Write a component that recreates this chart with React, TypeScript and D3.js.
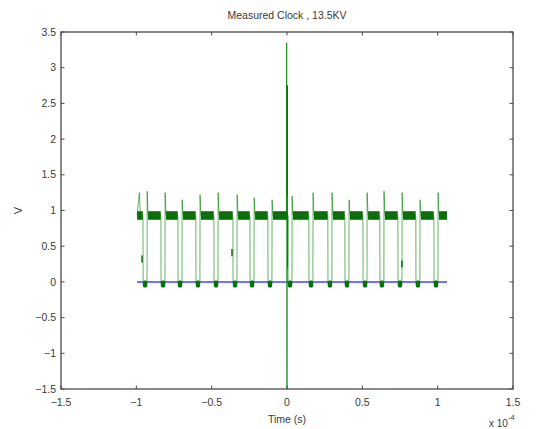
import { useRef, useEffect } from 'react';
import * as d3 from 'd3';

// times are in units of 1e-4 s (axis shows "x 10^-4")
const lowCenters = [-0.942, -0.823, -0.71, -0.591, -0.471, -0.345, -0.232, -0.113, 0.02, 0.159, 0.285, 0.398, 0.518, 0.63, 0.75, 0.869, 0.989];
const spikePeaks = [1.27, 1.25, 1.15, 1.22, 1.25, 1.22, 1.18, 1.15, 1.2, 1.25, 1.25, 1.15, 1.25, 1.27, 1.25, 1.15, 1.25];
const traceStart = -0.995;
const traceEnd = 1.062;
const startSpike = 1.25;
const highLevel = 0.93;
const lowLevel = -0.04;
const highBand = [0.87, 0.99];
const lowBand = [-0.08, 0.02];
const glitchT = [-0.962, -0.365, 0.763];
const glitchV = [0.32, 0.41, 0.25];
const bigSpikeT = [-0.004, -0.002, 0, 0.002, 0.004, 0.006];
const bigSpikeV = [0.93, 3.35, -1.7, 2.75, 0.2, 0.93];

const xTicks = [-1.5, -1, -0.5, 0, 0.5, 1, 1.5];
const yTicks = [-1.5, -1, -0.5, 0, 0.5, 1, 1.5, 2, 2.5, 3, 3.5];

const App = () => {
  const svgRef = useRef<SVGSVGElement>(null);

  useEffect(() => {
    const svg = d3.select(svgRef.current);
    svg.selectAll('*').remove();
    const margin = { top: 32, right: 24, bottom: 40, left: 61 };
    const width = 537, height = 429;

    const x = d3.scaleLinear().domain([-1.5, 1.5]).range([margin.left, width - margin.right]);
    const y = d3.scaleLinear().domain([-1.5, 3.5]).range([height - margin.bottom, margin.top]);
    const font = 'Liberation Sans, Arial, sans-serif';
    const axisColor = '#4a4a4a';
    const textColor = '#3a3a3a';

    svg.append('clipPath').attr('id', 'plot-clip')
      .append('rect')
      .attr('x', x(-1.5)).attr('y', y(3.5))
      .attr('width', x(1.5) - x(-1.5)).attr('height', y(-1.5) - y(3.5));

    const plot = svg.append('g').attr('clip-path', 'url(#plot-clip)');

    // blue reference trace at 0
    plot.append('line')
      .attr('x1', x(traceStart)).attr('x2', x(traceEnd))
      .attr('y1', y(0)).attr('y2', y(0))
      .attr('stroke', '#0000ff').attr('stroke-width', 2).attr('opacity', 0.55);

    // clock trace
    const pts: [number, number][] = [[traceStart, highLevel], [traceStart + 0.015, startSpike], [traceStart + 0.022, highLevel]];
    lowCenters.forEach((c, i) => {
      pts.push([c - 0.014, highLevel], [c - 0.013, lowLevel], [c + 0.013, lowLevel], [c + 0.014, spikePeaks[i]], [c + 0.02, highLevel]);
    });
    pts.push([traceEnd, highLevel]);

    const line = d3.line<[number, number]>().x(d => x(d[0])).y(d => y(d[1]));

    // noisy high plateaus
    const highSegs: [number, number][] = [[traceStart, lowCenters[0] - 0.015]];
    lowCenters.forEach((c, i) => {
      const next = i + 1 < lowCenters.length ? lowCenters[i + 1] - 0.015 : traceEnd;
      highSegs.push([c + 0.02, next]);
    });
    plot.selectAll('rect.high')
      .data(highSegs)
      .join('rect')
      .attr('class', 'high')
      .attr('x', d => x(d[0]))
      .attr('width', d => x(d[1]) - x(d[0]))
      .attr('y', y(highBand[1]))
      .attr('height', y(highBand[0]) - y(highBand[1]))
      .attr('fill', '#0b6e0b');

    plot.selectAll('rect.low')
      .data(lowCenters)
      .join('rect')
      .attr('class', 'low')
      .attr('x', d => x(d - 0.014))
      .attr('width', d => x(d + 0.014) - x(d - 0.014))
      .attr('y', y(lowBand[1]))
      .attr('height', y(lowBand[0]) - y(lowBand[1]))
      .attr('rx', 1.5)
      .attr('fill', '#0b6e0b');

    plot.append('path')
      .datum(pts)
      .attr('d', line)
      .attr('fill', 'none')
      .attr('stroke', '#008000')
      .attr('stroke-width', 1)
      .attr('opacity', 0.6);

    plot.selectAll('line.glitch')
      .data(glitchT)
      .join('line')
      .attr('class', 'glitch')
      .attr('x1', d => x(d)).attr('x2', d => x(d))
      .attr('y1', (d, i) => y(glitchV[i] + 0.05))
      .attr('y2', (d, i) => y(glitchV[i] - 0.05))
      .attr('stroke', '#0b6e0b').attr('stroke-width', 1.5);

    // transient at t = 0
    plot.append('path')
      .datum(bigSpikeT.map((t, i) => [t, bigSpikeV[i]] as [number, number]))
      .attr('d', line)
      .attr('fill', 'none')
      .attr('stroke', '#008000')
      .attr('stroke-width', 1)
      .attr('opacity', 0.75);
    plot.append('line')
      .attr('x1', x(0.002)).attr('x2', x(0.002))
      .attr('y1', y(2.75)).attr('y2', y(1.2))
      .attr('stroke', '#0b6e0b').attr('stroke-width', 1);

    // frame
    svg.append('rect')
      .attr('x', x(-1.5)).attr('y', y(3.5))
      .attr('width', x(1.5) - x(-1.5)).attr('height', y(-1.5) - y(3.5))
      .attr('fill', 'none').attr('stroke', axisColor).attr('stroke-width', 1.3);

    const tick = 3.5;
    const xt = svg.append('g');
    xTicks.forEach(t => {
      xt.append('line').attr('x1', x(t)).attr('x2', x(t)).attr('y1', y(-1.5)).attr('y2', y(-1.5) - tick).attr('stroke', axisColor);
      xt.append('line').attr('x1', x(t)).attr('x2', x(t)).attr('y1', y(3.5)).attr('y2', y(3.5) + tick).attr('stroke', axisColor);
      xt.append('text').attr('x', x(t)).attr('y', y(-1.5) + 17)
        .attr('text-anchor', 'middle').attr('font-family', font).attr('font-size', 10.5).attr('fill', textColor)
        .text(d3.format('')(t));
    });
    const yt = svg.append('g');
    yTicks.forEach(t => {
      yt.append('line').attr('x1', x(-1.5)).attr('x2', x(-1.5) + tick).attr('y1', y(t)).attr('y2', y(t)).attr('stroke', axisColor);
      yt.append('line').attr('x1', x(1.5)).attr('x2', x(1.5) - tick).attr('y1', y(t)).attr('y2', y(t)).attr('stroke', axisColor);
      yt.append('text').attr('x', x(-1.5) - 5).attr('y', y(t)).attr('dy', '0.35em')
        .attr('text-anchor', 'end').attr('font-family', font).attr('font-size', 10.5).attr('fill', textColor)
        .text(d3.format('')(t));
    });

    svg.append('text').attr('x', x(0)).attr('y', 19)
      .attr('text-anchor', 'middle').attr('font-family', font).attr('font-size', 10.5).attr('fill', textColor)
      .text('Measured Clock , 13.5KV');
    svg.append('text').attr('x', x(0)).attr('y', 423)
      .attr('text-anchor', 'middle').attr('font-family', font).attr('font-size', 10.5).attr('fill', textColor)
      .text('Time (s)');
    svg.append('text').attr('transform', `translate(22,${y(1)}) rotate(-90)`)
      .attr('text-anchor', 'middle').attr('font-family', font).attr('font-size', 11).attr('fill', textColor)
      .text('V');
    const exp = svg.append('text').attr('x', 489).attr('y', 427)
      .attr('font-family', font).attr('font-size', 10).attr('fill', textColor);
    exp.append('tspan').text('x 10');
    exp.append('tspan').attr('dy', -7).attr('font-size', 7.5).text('-4');
  }, []);

  return <svg ref={svgRef} width="537" height="429" style={{ position: 'absolute', left: 0, top: 0, background: '#fff' }}></svg>;
};

export default App;
